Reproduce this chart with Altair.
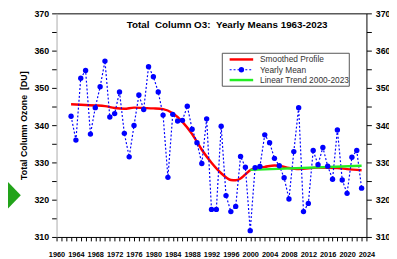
import altair as alt
import pandas as pd

years = list(range(1963, 2024))
yearly_mean = [342.4, 336.0, 352.6, 354.7, 337.6, 344.7, 350.3, 357.2, 342.2, 343.1,
               348.9, 337.8, 331.5, 339.9, 348.1, 344.2, 355.7, 353.0, 348.9, 342.7,
               326.0, 342.9, 341.1, 341.3, 345.1, 338.9, 335.3, 329.7, 341.7, 317.4,
               317.4, 339.7, 321.1, 316.8, 318.2, 331.6, 328.7, 311.7, 328.6, 328.9,
               337.4, 335.3, 331.1, 329.1, 325.9, 320.2, 332.9, 344.7, 316.8, 319.0,
               333.2, 329.4, 334.0, 329.0, 325.5, 338.7, 325.3, 321.7, 331.4, 333.2, 323.1]

smooth_years = [1963, 1965, 1968, 1970, 1972, 1974, 1976, 1978, 1980, 1982, 1984, 1986,
                1988, 1990, 1992, 1994, 1996, 1997, 1998, 1999, 2000, 2001, 2003, 2005,
                2006, 2008, 2010, 2014, 2018, 2020, 2023]
smooth_vals = [345.6, 345.5, 345.3, 345.1, 344.6, 344.4, 344.7, 344.6, 344.5, 344.3, 343.2, 340.9,
               337.6, 333.4, 329.9, 327.1, 325.3, 325.2, 325.7, 326.8, 327.9, 328.4, 328.8, 329.2,
               329.1, 328.5, 328.2, 328.6, 328.5, 328.2, 327.9]

trend_years = [2000, 2023]
trend_vals = [328.0, 329.1]

NB = "\u00a0"
legend_labels = ["Smoothed Profile", "Yearly Mean", "Linear Trend 2000-2023"]
title_text = "Total" + NB + NB + "Column O3:" + NB + NB + "Yearly Means 1963-2023"
y_title = "Total Column Ozone" + NB + NB + "[DU]"

FONT = "Liberation Sans"
RED = "#ff0000"
BLUE = "#0000ff"
GREEN = "#22ee22"

df_year = pd.DataFrame({"year": years, "val": yearly_mean})
df_smooth = pd.DataFrame({"year": smooth_years, "val": smooth_vals})
df_trend = pd.DataFrame({"year": trend_years, "val": trend_vals})

xscale = alt.Scale(domain=[1960, 2024], nice=False, zero=False)
yscale = alt.Scale(domain=[310, 370], nice=False, zero=False)

x_bottom = alt.Axis(orient="bottom", values=list(range(1960, 2025)), format="d",
                    labelExpr="datum.value % 4 == 0 ? datum.label : ''",
                    labelFontSize=7.5, labelFontWeight="bold", labelFont=FONT, labelColor="#000",
                    tickSize=4, tickColor="#000", domainColor="#000", labelPadding=10,
                    grid=False, title=None, labelOverlap=False, labelFlush=False)
x_top = alt.Axis(orient="top", labels=False, ticks=False, domainColor="#000", grid=False, title=None)
ytick_vals = list(range(310, 371, 5))
y_left = alt.Axis(orient="left", values=ytick_vals,
                  labelExpr="datum.value % 10 == 0 ? datum.label : ''",
                  labelFontSize=9, labelFontWeight="bold", labelFont=FONT, labelColor="#000",
                  tickSize=5, tickColor="#000", domainColor="#aaaaaa", labelPadding=3,
                  grid=False, title=y_title, titleFont=FONT, titleFontSize=9,
                  titleFontWeight="bold", titleColor="#000", titlePadding=6)
y_right = alt.Axis(orient="right", values=ytick_vals,
                   labelExpr="datum.value % 10 == 0 ? datum.label : ''",
                   labelFontSize=9, labelFontWeight="bold", labelFont=FONT, labelColor="#000",
                   tickSize=5, tickColor="#000", domainColor="#000", labelPadding=4,
                   grid=False, title=None)

red = alt.Chart(df_smooth).mark_line(color=RED, strokeWidth=2.5, interpolate="monotone").encode(
    x=alt.X("year:Q", scale=xscale, axis=None), y=alt.Y("val:Q", scale=yscale, axis=None))
blue_line = alt.Chart(df_year).mark_line(color=BLUE, strokeWidth=1.2, strokeDash=[2, 2]).encode(
    x=alt.X("year:Q", scale=xscale, axis=x_bottom), y=alt.Y("val:Q", scale=yscale, axis=y_left))
green = alt.Chart(df_trend).mark_line(color=GREEN, strokeWidth=2.5).encode(
    x=alt.X("year:Q", scale=xscale, axis=None), y=alt.Y("val:Q", scale=yscale, axis=None))
blue_pts = alt.Chart(df_year).mark_point(color=BLUE, filled=True, opacity=1, size=30).encode(
    x=alt.X("year:Q", scale=xscale, axis=x_top), y=alt.Y("val:Q", scale=yscale, axis=y_right))

one = pd.DataFrame({"a": [0]})
title = alt.Chart(one).mark_text(text=title_text, font=FONT, fontSize=10, fontWeight="bold",
                                 color="#000", align="center", baseline="middle").encode(
    x=alt.value(174), y=alt.value(12))

legend_box = alt.Chart(one).mark_rect(fill="white", stroke="#555555", strokeWidth=1).encode(
    x=alt.value(169), x2=alt.value(298.5), y=alt.value(40.7), y2=alt.value(74.3))
leg_rows = [47, 57.5, 68]
leg_layers = [legend_box]
leg_layers.append(alt.Chart(one).mark_rule(color=RED, strokeWidth=2.5).encode(
    x=alt.value(176.5), x2=alt.value(200.5), y=alt.value(leg_rows[0])))
leg_layers.append(alt.Chart(one).mark_rule(color=BLUE, strokeWidth=1.2, strokeDash=[2, 2]).encode(
    x=alt.value(176.5), x2=alt.value(200.5), y=alt.value(leg_rows[1])))
leg_layers.append(alt.Chart(one).mark_point(color=BLUE, filled=True, opacity=1, size=30).encode(
    x=alt.value(188.5), y=alt.value(leg_rows[1])))
leg_layers.append(alt.Chart(one).mark_rule(color=GREEN, strokeWidth=2.5).encode(
    x=alt.value(176.5), x2=alt.value(200.5), y=alt.value(leg_rows[2])))
for lab, yy in zip(legend_labels, leg_rows):
    leg_layers.append(alt.Chart(one).mark_text(text=lab, font=FONT, fontSize=8.5, color="#333",
                                               align="left", baseline="middle").encode(
        x=alt.value(207.5), y=alt.value(yy)))

arrow = alt.Chart(one).mark_point(
    shape="M-0.57,-0.89 L-0.39,-1 L0.57,0 L-0.39,1 L-0.57,0.89 Z",
    filled=True, color="#22a31a", opacity=1, size=1369, strokeWidth=0).encode(
    x=alt.value(-47), y=alt.value(185.5))

chart = alt.layer(red, blue_line, green, blue_pts, title, *leg_layers, arrow).resolve_axis(
    x="independent", y="independent").properties(
    width=316, height=228,
    autosize=alt.AutoSizeParams(type="none"),
    padding={"left": 49.5, "top": 3, "right": 23, "bottom": 20},
).configure_view(stroke=None)

chart.save("out.html", embed_options={"renderer": "svg", "actions": False})
